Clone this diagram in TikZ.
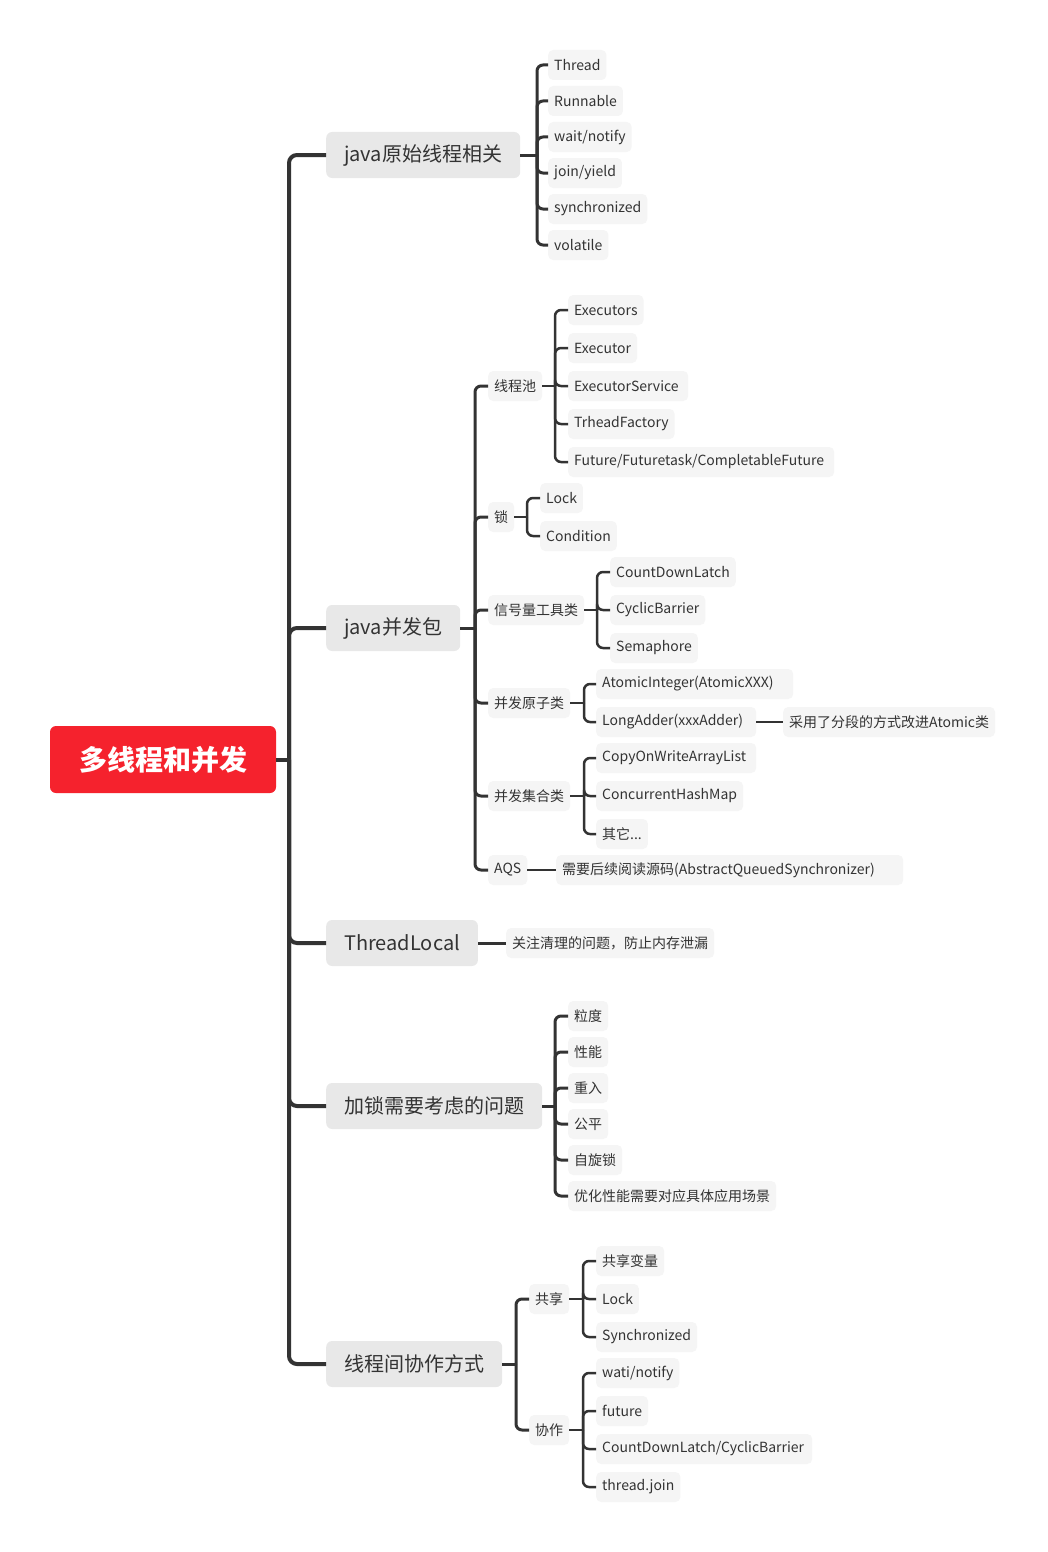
\documentclass[tikz,border=0pt]{standalone}
\usepackage{fontspec}
\setmainfont{Noto Sans CJK SC}
\definecolor{rootred}{HTML}{F5222D}
\definecolor{topicfill}{HTML}{E8E8E8}
\definecolor{leaffill}{HTML}{F5F5F5}
\definecolor{ink}{HTML}{333333}
\tikzset{
 root/.style={fill=rootred, rounded corners=6, text=white, font=\fontsize{28}{32}\selectfont\bfseries, minimum width=226, minimum height=67, inner sep=0},
 topic/.style={anchor=west, fill=topicfill, rounded corners=6, text=ink, font=\fontsize{20}{24}\selectfont, minimum height=46, inner xsep=18, inner ysep=0},
 leaf/.style={anchor=west, fill=leaffill, rounded corners=5, text=ink, font=\fontsize{14}{16}\selectfont, minimum height=30, inner xsep=6, inner ysep=0},
 wide/.style={text width=#1, align=left},
 wa/.style={draw=ink, line width=4},
 wb/.style={draw=ink, line width=3},
 wc/.style={draw=ink, line width=2.5},
}
\newcommand\mmconn[4]{%
 \draw[#1] (#2.east) -- (#3|-#2.east);
 \draw[#1,rounded corners=6] (#3|-#2.east) -- (#3|-#4.west) -- (#4.west);}
\begin{document}
\begin{tikzpicture}[x=1pt,y=-1pt]
\fill[white] (0,0) rectangle (1047,1552);
\useasboundingbox (0,0) rectangle (1047,1552);
% root
\node[root] (r) at (163,759.5) {多线程和并发};
% level 1
\node[topic] (a1) at (326,155) {java原始线程相关};
\node[topic] (a2) at (326,628) {java并发包};
\node[topic] (a3) at (326,943) {ThreadLocal};
\node[topic] (a4) at (326,1106) {加锁需要考虑的问题};
\node[topic] (a5) at (326,1364) {线程间协作方式};
% bracket x positions
\coordinate (k0) at (289,0);
\coordinate (k1) at (537,0);
\coordinate (k2) at (475,0);
\coordinate (k21) at (555,0);
\coordinate (k22) at (527,0);
\coordinate (k23) at (597,0);
\coordinate (k24) at (584,0);
\coordinate (k4) at (555,0);
\coordinate (k5) at (516,0);
\coordinate (k51) at (583,0);
% a1 children
\node[leaf] (c11) at (548,65) {Thread};
\node[leaf] (c12) at (548,101) {Runnable};
\node[leaf] (c13) at (548,137) {wait/notify};
\node[leaf] (c14) at (548,173) {join/yield};
\node[leaf] (c15) at (548,209) {synchronized};
\node[leaf] (c16) at (548,245) {volatile};
% a2 children
\node[leaf] (b1) at (488,386) {线程池};
\node[leaf] (b2) at (488,517) {锁};
\node[leaf] (b3) at (488,610) {信号量工具类};
\node[leaf] (b4) at (488,703) {并发原子类};
\node[leaf] (b5) at (488,796) {并发集合类};
\node[leaf] (b6) at (488,870) {AQS};
\node[leaf] (d11) at (568,310) {Executors};
\node[leaf] (d12) at (568,348) {Executor};
\node[leaf,wide=108pt] (d13) at (568,386) {ExecutorService};
\node[leaf] (d14) at (568,424) {TrheadFactory};
\node[leaf,wide=254pt] (d15) at (568,462) {Future/Futuretask/CompletableFuture};
\node[leaf] (d21) at (540,498) {Lock};
\node[leaf] (d22) at (540,536) {Condition};
\node[leaf] (d31) at (610,572) {CountDownLatch};
\node[leaf] (d32) at (610,610) {CyclicBarrier};
\node[leaf] (d33) at (610,648) {Semaphore};
\node[leaf,wide=185pt] (d41) at (596,684) {AtomicInteger(AtomicXXX)};
\node[leaf,wide=148pt] (d42) at (596,722) {LongAdder(xxxAdder)};
\node[leaf] (e42) at (783,722) {采用了分段的方式改进Atomic类};
\node[leaf,wide=148pt] (d51) at (596,758) {CopyOnWriteArrayList};
\node[leaf] (d52) at (596,796) {ConcurrentHashMap};
\node[leaf] (d53) at (596,834) {其它...};
\node[leaf,wide=335pt] (d61) at (556,870) {需要后续阅读源码(AbstractQueuedSynchronizer)};
% a3 child
\node[leaf] (c31) at (506,943) {关注清理的问题，防止内存泄漏};
% a4 children
\node[leaf] (c41) at (568,1016) {粒度};
\node[leaf] (c42) at (568,1052) {性能};
\node[leaf] (c43) at (568,1088) {重入};
\node[leaf] (c44) at (568,1124) {公平};
\node[leaf] (c45) at (568,1160) {自旋锁};
\node[leaf] (c46) at (568,1196) {优化性能需要对应具体应用场景};
% a5 children
\node[leaf] (c51) at (529,1299) {共享};
\node[leaf] (c52) at (529,1430) {协作};
\node[leaf] (f11) at (596,1261) {共享变量};
\node[leaf] (f12) at (596,1299) {Lock};
\node[leaf] (f13) at (596,1337) {Synchronized};
\node[leaf] (f21) at (596,1373) {wati/notify};
\node[leaf] (f22) at (596,1411) {future};
\node[leaf,wide=204pt] (f23) at (596,1449) {CountDownLatch/CyclicBarrier};
\node[leaf] (f24) at (596,1487) {thread.join};
% connectors: root to level 1
\draw[wa] (r.east) -- (k0|-r.east);
\foreach \t in {a1,a2,a3,a4,a5}{
 \draw[wa,rounded corners=8] (k0|-r.east) -- (k0|-\t.west) -- (\t.west);}
% a1
\foreach \t in {c11,c12,c13,c14,c15,c16}{\mmconn{wb}{a1}{k1}{\t}}
% a2
\foreach \t in {b1,b2,b3,b4,b5,b6}{\mmconn{wb}{a2}{k2}{\t}}
\foreach \t in {d11,d12,d13,d14,d15}{\mmconn{wc}{b1}{k21}{\t}}
\foreach \t in {d21,d22}{\mmconn{wc}{b2}{k22}{\t}}
\foreach \t in {d31,d32,d33}{\mmconn{wc}{b3}{k23}{\t}}
\foreach \t in {d41,d42}{\mmconn{wc}{b4}{k24}{\t}}
\foreach \t in {d51,d52,d53}{\mmconn{wc}{b5}{k24}{\t}}
\draw[wc] (b6.east) -- (d61.west);
\draw[wc] (d42.east) -- (e42.west);
% a3
\draw[wb] (a3.east) -- (c31.west);
% a4
\foreach \t in {c41,c42,c43,c44,c45,c46}{\mmconn{wb}{a4}{k4}{\t}}
% a5
\foreach \t in {c51,c52}{\mmconn{wb}{a5}{k5}{\t}}
\foreach \t in {f11,f12,f13}{\mmconn{wc}{c51}{k51}{\t}}
\foreach \t in {f21,f22,f23,f24}{\mmconn{wc}{c52}{k51}{\t}}
\end{tikzpicture}
\end{document}
